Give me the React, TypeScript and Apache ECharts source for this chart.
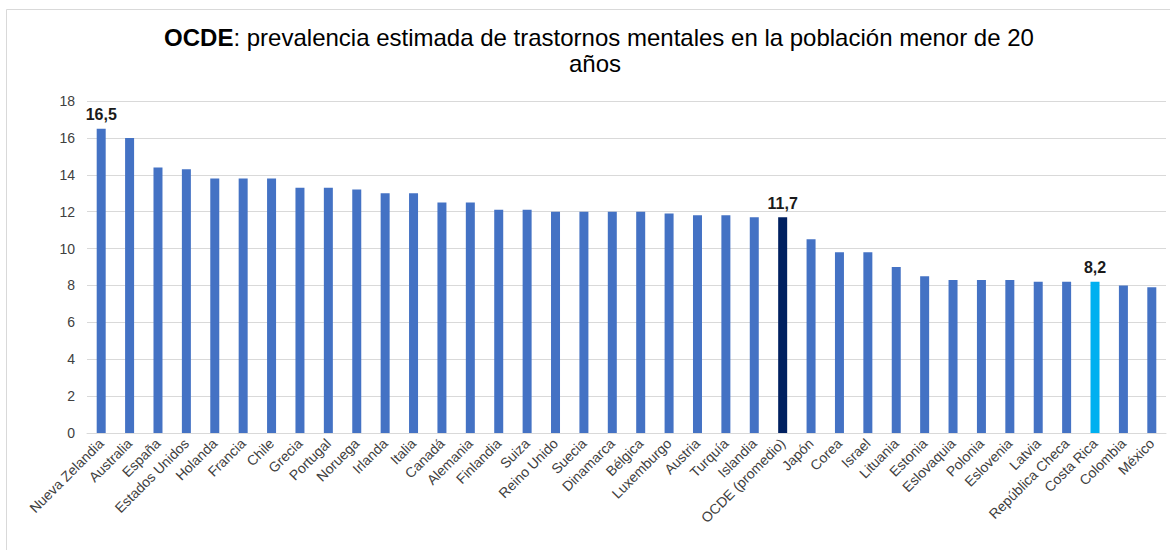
import React, { useEffect, useRef } from "react";
import * as echarts from "echarts";

const categories: string[] = [
  "Nueva Zelandia", "Australia", "España", "Estados Unidos", "Holanda", "Francia", "Chile",
  "Grecia", "Portugal", "Noruega", "Irlanda", "Italia", "Canadá", "Alemania", "Finlandia",
  "Suiza", "Reino Unido", "Suecia", "Dinamarca", "Bélgica", "Luxemburgo", "Austria",
  "Turquía", "Islandia", "OCDE (promedio)", "Japón", "Corea", "Israel", "Lituania",
  "Estonia", "Eslovaquia", "Polonia", "Eslovenia", "Latvia", "República Checa",
  "Costa Rica", "Colombia", "México",
];

const values: number[] = [
  16.5, 16.0, 14.4, 14.3, 13.8, 13.8, 13.8,
  13.3, 13.3, 13.2, 13.0, 13.0, 12.5, 12.5, 12.1,
  12.1, 12.0, 12.0, 12.0, 12.0, 11.9, 11.8,
  11.8, 11.7, 11.7, 10.5, 9.8, 9.8, 9.0,
  8.5, 8.3, 8.3, 8.3, 8.2, 8.2,
  8.2, 8.0, 7.9,
];

const labeledCategories: string[] = ["Nueva Zelandia", "OCDE (promedio)", "Costa Rica"];
const highlightColors: Record<string, string> = {
  "OCDE (promedio)": "#002060",
  "Costa Rica": "#00B0F0",
};

const yTicks = { min: 0, max: 18, interval: 2 };
const titleBold = "OCDE";
const titleRest = ": prevalencia estimada de trastornos mentales en la población menor de 20";
const titleLine2 = "años";

const FONT = "'Liberation Sans', Arial, sans-serif";

export default function App() {
  const ref = useRef<HTMLDivElement>(null);

  useEffect(() => {
    if (!ref.current) return;
    const chart = echarts.init(ref.current, null, { renderer: "svg" });

    const data = categories.map((c, i) => ({
      value: values[i],
      itemStyle: { color: highlightColors[c] || "#4472C4" },
      label: {
        show: labeledCategories.includes(c),
        position: "top",
        distance: 6,
        fontFamily: FONT,
        fontSize: 16,
        fontWeight: "bold",
        color: "#1a1a1a",
        formatter: (p: any) => String(p.value).replace(".", ","),
      },
    }));

    chart.setOption({
      animation: false,
      backgroundColor: "#ffffff",
      graphic: [
        {
          type: "rect",
          shape: { x: 6.5, y: 9.5, width: 1200, height: 600 },
          style: { fill: "none", stroke: "#d9d9d9", lineWidth: 1 },
          silent: true,
        },
        {
          type: "text",
          x: 599,
          y: 49,
          style: {
            text: `{b|${titleBold}}${titleRest}`,
            align: "center",
            verticalAlign: "bottom",
            fontFamily: FONT,
            fontSize: 24,
            fill: "#000",
            rich: {
              b: { fontFamily: FONT, fontSize: 24, fontWeight: "bold", fill: "#000" },
            },
          },
        },
        {
          type: "text",
          x: 595,
          y: 75,
          style: {
            text: titleLine2,
            align: "center",
            verticalAlign: "bottom",
            fontFamily: FONT,
            fontSize: 24,
            fill: "#000",
          },
        },
      ],
      grid: { left: 87, right: 4, top: 101, bottom: 117, containLabel: false },
      xAxis: {
        type: "category",
        data: categories,
        axisLine: { show: true, lineStyle: { color: "#d9d9d9", width: 1 } },
        axisTick: { show: false },
        axisLabel: {
          interval: 0,
          rotate: 45,
          margin: 8,
          fontFamily: FONT,
          fontSize: 14,
          color: "#404040",
        },
      },
      yAxis: {
        type: "value",
        min: yTicks.min,
        max: yTicks.max,
        interval: yTicks.interval,
        axisLine: { show: false },
        axisTick: { show: false },
        splitLine: { show: true, lineStyle: { color: "#d9d9d9", width: 1 } },
        axisLabel: {
          margin: 12,
          fontFamily: FONT,
          fontSize: 14,
          color: "#404040",
        },
      },
      series: [
        {
          type: "bar",
          data,
          barWidth: 9,
        },
      ],
    });

    return () => chart.dispose();
  }, []);

  return (
    <div
      ref={ref}
      style={{ position: "absolute", left: 0, top: 0, width: 1170, height: 550 }}
    />
  );
}
